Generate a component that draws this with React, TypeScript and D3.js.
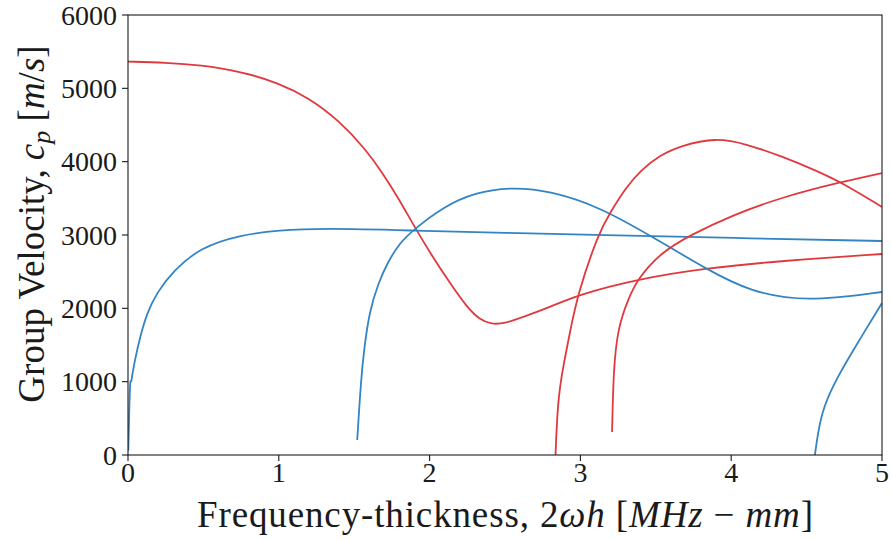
import React from "react";
import * as d3 from "d3";

const W = 891;
const H = 540;
const M = { left: 128, right: 9, top: 15, bottom: 85 };

const xTicks = [0, 1, 2, 3, 4, 5];
const yTicks = [0, 1000, 2000, 3000, 4000, 5000, 6000];

// Dispersion branches: [frequency-thickness, group velocity]
const redMode1: [number, number][] = [
  [0, 5365], [0.25, 5352], [0.48, 5318], [0.75, 5230], [1.0, 5073], [1.2, 4870],
  [1.4, 4560], [1.58, 4160], [1.69, 3840], [1.8, 3480], [1.9, 3110], [2.02, 2700],
  [2.14, 2330], [2.25, 2010], [2.33, 1850], [2.41, 1780], [2.5, 1795], [2.6, 1868],
  [2.8, 2018], [2.98, 2182], [3.38, 2400], [3.84, 2550], [4.32, 2645], [5.0, 2741],
];

const blueMode1: [number, number][] = [
  [0.002, 60], [0.008, 600], [0.015, 1070], [0.02, 960], [0.03, 1120], [0.046, 1295],
  [0.08, 1610], [0.126, 1936], [0.19, 2210], [0.3, 2510], [0.48, 2830], [0.74, 3000],
  [1.0, 3065], [1.3, 3092], [1.9, 3060], [2.5, 3030], [3.13, 3000], [4.0, 2960],
  [5.0, 2918],
];

const blueMode2: [number, number][] = [
  [1.52, 205], [1.545, 1023], [1.565, 1432], [1.6, 1950], [1.66, 2345], [1.72, 2618],
  [1.8, 2890], [1.9, 3082], [2.09, 3382], [2.3, 3580], [2.55, 3655], [2.8, 3600],
  [3.13, 3382], [3.49, 2959], [3.84, 2530], [4.12, 2230], [4.5, 2085], [5.0, 2223],
];

const redMode2: [number, number][] = [
  [2.835, 0], [2.85, 750], [2.885, 1200], [2.93, 1664], [2.98, 2182], [3.12, 3027],
  [3.2, 3314], [3.3, 3640], [3.4, 3886], [3.53, 4090], [3.66, 4214], [3.9, 4330],
  [4.1, 4240], [4.34, 4070], [4.55, 3890], [4.73, 3720], [5.0, 3382],
];

const redMode3: [number, number][] = [
  [3.21, 314], [3.22, 1200], [3.25, 1745], [3.32, 2141], [3.38, 2400], [3.53, 2755],
  [3.73, 3000], [4.01, 3273], [4.34, 3518], [4.73, 3723], [5.0, 3845],
];

const blueMode3: [number, number][] = [
  [4.555, 0], [4.575, 300], [4.61, 650], [4.7, 1050], [4.83, 1500], [5.0, 2073],
];

const BLUE = "#3384c4";
const RED = "#e0393d";

const series: { pts: [number, number][]; color: string }[] = [
  { pts: redMode1, color: RED },
  { pts: blueMode1, color: BLUE },
  { pts: blueMode2, color: BLUE },
  { pts: redMode2, color: RED },
  { pts: redMode3, color: RED },
  { pts: blueMode3, color: BLUE },
];

const FONT = "'Liberation Serif', 'Times New Roman', serif";

export default function App() {
  const x = d3.scaleLinear().domain([0, 5]).range([M.left, W - M.right]);
  const y = d3.scaleLinear().domain([0, 6000]).range([H - M.bottom, M.top]);
  const line = d3
    .line<[number, number]>()
    .x((d) => x(d[0]))
    .y((d) => y(d[1]))
    .curve(d3.curveBasis);

  const pw = x(5) - x(0);
  const ph = y(0) - y(6000);

  return (
    <svg
      width={W}
      height={H}
      style={{ position: "absolute", left: 0, top: 0, background: "#fff" }}
      fontFamily={FONT}
    >
      <defs>
        <clipPath id="plot-clip">
          <rect x={x(0)} y={y(6000)} width={pw} height={ph} />
        </clipPath>
      </defs>

      <g clipPath="url(#plot-clip)">
        {series.map((s, i) => (
          <path
            key={i}
            d={line(s.pts) || ""}
            fill="none"
            stroke={s.color}
            strokeWidth={1.8}
            strokeLinejoin="round"
          />
        ))}
      </g>

      <rect x={x(0)} y={y(6000)} width={pw} height={ph} fill="none" stroke="#1a1a1a" strokeWidth={1.1} />

      {xTicks.map((t) => (
        <g key={"x" + t}>
          <line x1={x(t)} x2={x(t)} y1={y(0)} y2={y(0) + 6} stroke="#1a1a1a" strokeWidth={1.1} />
          <text x={x(t)} y={482} textAnchor="middle" fontSize={28} fill="#1a1a1a">
            {t}
          </text>
        </g>
      ))}

      {yTicks.map((t) => (
        <g key={"y" + t}>
          <line x1={x(0) - 6} x2={x(0)} y1={y(t)} y2={y(t)} stroke="#1a1a1a" strokeWidth={1.1} />
          <text x={117} y={y(t) + 9.5} textAnchor="end" fontSize={28} fill="#1a1a1a">
            {t}
          </text>
        </g>
      ))}

      <text
        x={(x(0) + x(5)) / 2}
        y={527}
        textAnchor="middle"
        fontSize={37}
        fill="#1a1a1a"
        textLength={616}
        lengthAdjust="spacing"
      >
        Frequency-thickness, 2<tspan fontStyle="italic">ωh</tspan> [
        <tspan fontStyle="italic">MHz</tspan> − <tspan fontStyle="italic">mm</tspan>]
      </text>

      <text
        transform={`translate(44, 224) rotate(-90)`}
        textAnchor="middle"
        fontSize={37}
        fill="#1a1a1a"
      >
        Group Velocity, <tspan fontStyle="italic">c</tspan>
        <tspan fontStyle="italic" fontSize={26} dy={6}>p</tspan>
        <tspan dy={-6}> [</tspan>
        <tspan fontStyle="italic">m</tspan>/<tspan fontStyle="italic">s</tspan>]
      </text>
    </svg>
  );
}
